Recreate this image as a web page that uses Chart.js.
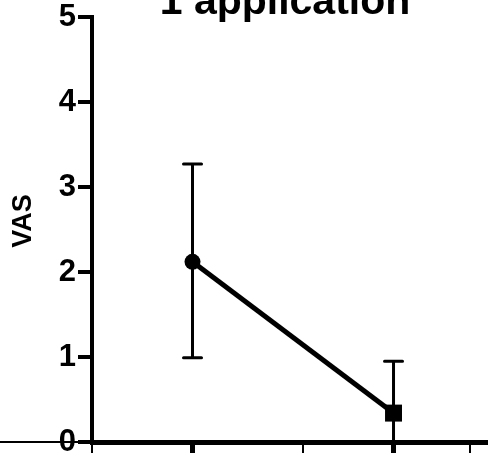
<!DOCTYPE html>
<html>
<head>
<meta charset="utf-8">
<script src="https://cdn.jsdelivr.net/npm/chart.js@4/dist/chart.umd.min.js"></script>
<style>
  html, body { margin: 0; padding: 0; background: #fff; }
  #chart { display: block; }
</style>
</head>
<body>
<canvas id="chart" width="488" height="453"></canvas>
<script>
// ==================== DATA ====================
const titleText = '1 application';
const yTitle = 'VAS';
const xValues = [1, 2];
const means = [2.12, 0.34];
const errLow = [0.99, 0];
const errHigh = [3.27, 0.95];
const markers = ['circle', 'rect'];
const yTicks = [0, 1, 2, 3, 4, 5];
const xTickValues = [0.5, 1, 1.55, 2, 2.38];
const xMajor = [1, 2];

// ==================== PLUGINS ====================
const errorBars = {
    id: 'errorBars',
    beforeDatasetsDraw(chart) {
        const ctx = chart.ctx;
        const x = chart.scales.x, y = chart.scales.y;
        ctx.save();
        ctx.strokeStyle = '#000';
        ctx.lineWidth = 3;
        ctx.lineCap = 'round';
        xValues.forEach((v, i) => {
            const px = x.getPixelForValue(v);
            const top = y.getPixelForValue(errHigh[i]);
            const bot = y.getPixelForValue(errLow[i]);
            ctx.beginPath();
            ctx.moveTo(px, top); ctx.lineTo(px, bot);
            ctx.moveTo(px - 9, top); ctx.lineTo(px + 9, top);
            if (errLow[i] > 0) { ctx.moveTo(px - 9, bot); ctx.lineTo(px + 9, bot); }
            ctx.stroke();
        });
        ctx.restore();
    }
};

const decorations = {
    id: 'decorations',
    beforeDraw(chart) {
        // stray thin baseline left of the y axis
        const ctx = chart.ctx;
        const y0 = chart.scales.y.getPixelForValue(0);
        ctx.save();
        ctx.strokeStyle = '#000';
        ctx.lineWidth = 2;
        ctx.beginPath();
        ctx.moveTo(0, y0); ctx.lineTo(chart.chartArea.left, y0);
        ctx.stroke();
        ctx.restore();
    },
    afterDraw(chart) {
        const ctx = chart.ctx;
        ctx.save();
        ctx.fillStyle = '#000';
        ctx.font = 'bold 41px Arial, "Liberation Sans", sans-serif';
        ctx.textAlign = 'center';
        ctx.textBaseline = 'alphabetic';
        ctx.fillText(titleText, 285, 14);

        ctx.translate(24, 221);
        ctx.rotate(-Math.PI / 2);
        ctx.font = 'bold 27px Arial, "Liberation Sans", sans-serif';
        ctx.textBaseline = 'middle';
        ctx.fillText(yTitle, 0, 0);
        ctx.restore();
    }
};

// ==================== CHART ====================
new Chart(document.getElementById('chart').getContext('2d'), {
    type: 'line',
    data: {
        datasets: [{
            data: xValues.map((v, i) => ({ x: v, y: means[i] })),
            borderColor: '#000',
            backgroundColor: '#000',
            borderWidth: 5,
            pointStyle: markers,
            pointRadius: [8, 12],
            pointBackgroundColor: '#000',
            pointBorderColor: '#000',
            pointBorderWidth: 0,
            tension: 0,
            clip: false
        }]
    },
    options: {
        responsive: false,
        animation: false,
        devicePixelRatio: 1,
        layout: { autoPadding: false, padding: { top: 17, left: 0, right: 0, bottom: 0 } },
        plugins: { legend: { display: false }, tooltip: { enabled: false } },
        scales: {
            x: {
                type: 'linear',
                min: 0.5,
                max: 2.47,
                afterBuildTicks: s => { s.ticks = xTickValues.map(v => ({ value: v })); },
                afterFit: s => { s.height = 11; s.paddingLeft = 0; s.paddingRight = 0; },
                ticks: { display: false },
                grid: {
                    drawOnChartArea: false,
                    drawTicks: true,
                    tickLength: 12,
                    color: '#000',
                    lineWidth: c => xMajor.includes(c.tick && c.tick.value) ? 5 : 2
                },
                border: { display: true, color: '#000', width: 5 }
            },
            y: {
                min: 0,
                max: 5,
                afterBuildTicks: s => { s.ticks = yTicks.map(v => ({ value: v })); },
                afterFit: s => { s.width = 92; s.paddingTop = 0; s.paddingBottom = 0; },
                ticks: {
                    color: '#000',
                    padding: 2,
                    font: { family: 'Arial, "Liberation Sans", sans-serif', size: 31, weight: 'bold' }
                },
                grid: {
                    drawOnChartArea: false,
                    tickLength: 14,
                    color: '#000',
                    lineWidth: 4
                },
                border: { display: true, color: '#000', width: 4 }
            }
        }
    },
    plugins: [errorBars, decorations]
});
</script>
</body>
</html>
